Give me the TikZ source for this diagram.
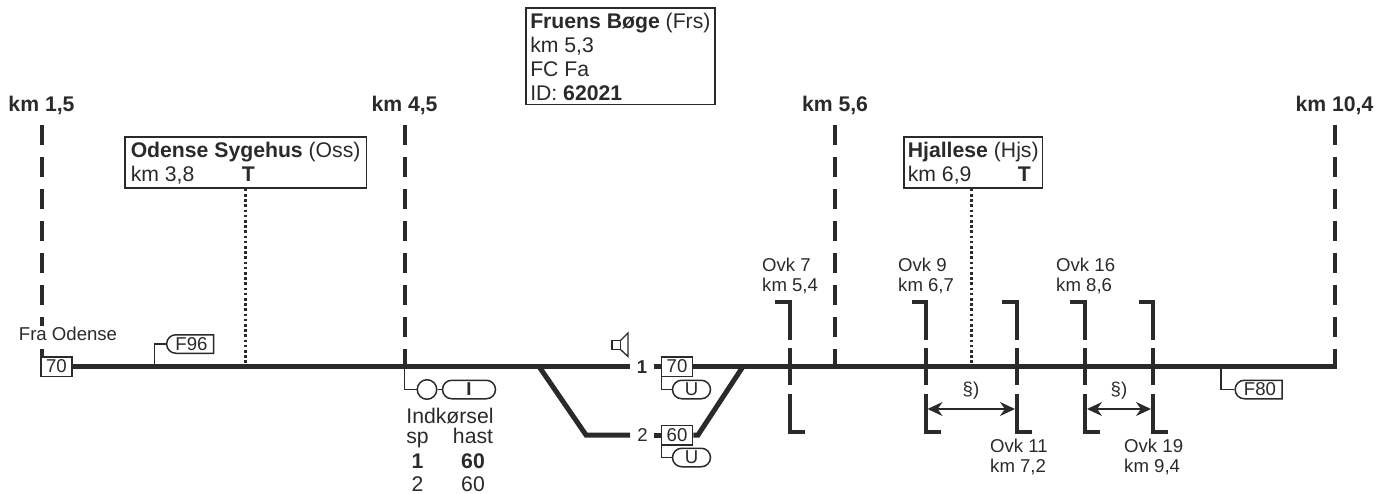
\documentclass[tikz,border=0pt]{standalone}
\usepackage{fontspec}
\setmainfont{Liberation Sans}
\usetikzlibrary{shapes.misc,arrows.meta}
\definecolor{ink}{HTML}{2B2A2B}
\newcommand{\fa}{\fontsize{18.6}{20.7}\selectfont}
\newcommand{\fb}{\fontsize{21.2}{24}\selectfont}
\newcommand{\topline}{\rule{0pt}{17.5pt}}
\tikzset{
  track/.style={draw=ink,line width=5pt,line join=miter},
  thin line/.style={draw=ink,line width=1.5pt},
  kmbar/.style={draw=ink,line width=4pt,dash pattern=on 20pt off 12pt},
  dots/.style={draw=ink,line width=2.4pt,dash pattern=on 2.6pt off 2.6pt},
  ovk/.style={draw=ink,line width=4pt,line join=miter},
  speed/.style={draw=ink,line width=1.5pt,fill=white,text=ink,font=\fa,minimum width=31pt,minimum height=19.5pt,inner sep=0pt},
  pod/.style={rounded rectangle,draw=ink,line width=1.5pt,fill=white,text=ink,font=\fa,minimum height=18.5pt,inner sep=0pt},
  flag/.style={pod,rounded rectangle east arc=none},
  station/.style={draw=ink,line width=1.5pt,fill=white,text=ink,font=\fb,anchor=north west,align=left,inner xsep=6pt,inner ysep=3.5pt},
  kmlabel/.style={text=ink,font=\fb\bfseries,inner sep=0pt},
  small/.style={text=ink,font=\fa,inner sep=0pt,align=left},
  big/.style={text=ink,font=\fb,inner sep=0pt,anchor=base},
  both/.style={{Stealth[length=15pt,width=14pt]}-{Stealth[length=15pt,width=14pt]},draw=ink,line width=1.5pt},
  x=1pt,y=-1pt
}
\begin{document}
\begin{tikzpicture}
\useasboundingbox (0,0) rectangle (1376,493);
% km bars
\coordinate (a1) at (41.5,125); \coordinate (a2) at (41.5,366);
\coordinate (b1) at (404.5,125); \coordinate (b2) at (404.5,366);
\coordinate (c1) at (835,125); \coordinate (c2) at (835,366);
\coordinate (d1) at (1334.5,125); \coordinate (d2) at (1334.5,368.5);
\draw[kmbar] (a1) -- (a2);
\draw[kmbar] (b1) -- (b2);
\draw[kmbar] (c1) -- (c2);
\draw[kmbar] (d1) -- (d2);
\node[kmlabel] (k1) at (41.5,105.5) {km 1,5};
\node[kmlabel] (k2) at (404.5,105.5) {km 4,5};
\node[kmlabel] (k3) at (835,105.5) {km 5,6};
\node[kmlabel] (k4) at (1334.5,105.5) {km 10,4};
% label over the bar
\node[small,fill=white,inner xsep=0pt,inner ysep=1pt] (fra) at (68,334) {Fra Odense};
% stations
\node[station] (oss) at (124,136) {\topline\textbf{Odense Sygehus} (Oss)\\\makebox[111pt][l]{km 3,8}\textbf{T}};
\node[station,inner xsep=4.5pt] (frs) at (525,7) {\topline\textbf{Fruens Bøge} (Frs)\\km 5,3\\FC Fa\\ID: \textbf{62021}};
\node[station,inner xsep=3.8pt] (hjs) at (903.3,136) {\topline\textbf{Hjallese} (Hjs)\\\makebox[110pt][l]{km 6,9}\textbf{T}};
\coordinate (ossr) at (245.5,364);
\coordinate (hjsr) at (971.5,364);
\draw[dots] (ossr |- oss.south) -- (ossr);
\draw[dots] (hjsr |- hjs.south) -- (hjsr);
% speed boxes
\node[speed] (s70a) at (56.5,366.5) {70};
\node[speed] (s70b) at (677,366.5) {70};
\node[speed] (s60) at (677,435) {60};
% tracks
\coordinate (sw1) at (539,366.5); \coordinate (sw2) at (743,366.5);
\coordinate (bend1) at (586,435); \coordinate (bend2) at (698,435);
\coordinate (e1) at (630,366.5); \coordinate (e2) at (630,435);
\coordinate (rend) at (1336.5,366.5);
\coordinate (st1) at (654,366.5); \coordinate (st2) at (654,435);
\node[text=ink,font=\fa\bfseries,inner sep=0pt] (n1) at (642,367) {1};
\node[text=ink,font=\fa,inner sep=0pt] (n2) at (642.5,435) {2};
\draw[track] (s70a.east) -- (e1);
\draw[track] (s70b.east) -- (rend);
\draw[track] (st1) -- (s70b.west);
\draw[track] (st2) -- (s60.west);
\draw[track] (sw1) -- (bend1) -- (e2);
\draw[track] (s60.east) -- (bend2) -- (sw2);
% pods under track
\node[pod,minimum width=38pt] (u1) at (691.5,389.5) {U};
\node[pod,minimum width=38pt] (u2) at (691.5,457.5) {U};
\draw[thin line] (661.7,376.5) |- (u1.west);
\draw[thin line] (661.7,444.5) |- (u2.west);
\node[circle,draw=ink,line width=1.5pt,fill=white,minimum size=19.5pt,inner sep=0pt] (sig) at (427,389.5) {};
\node[pod,minimum width=53pt,font=\fa\bfseries] (ind) at (469,389.5) {I};
\draw[thin line] (b2) |- (sig.west);
\draw[thin line] (sig.east) -- (ind.west);
\node[flag,minimum width=47pt] (f96) at (191.5,344) {F96};
\coordinate (f96r) at (154.7,366);
\draw[thin line] (f96r) |- (f96.west);
\node[flag,minimum width=47pt] (f80) at (1260,389.5) {F80};
\coordinate (f80r) at (1221,366);
\draw[thin line] (f80r) |- (f80.west);
% speaker
\draw[ink,line width=1.3pt,line join=miter] (612,340.5) rectangle (620.5,349.5);
\draw[ink,line width=1.3pt,line join=miter] (620.5,340.5) -- (628,333) -- (628,356.5) -- (620.5,349.5);
% entry table
\node[big] (t0) at (450,423.5) {Indkørsel};
\node[big] (t1) at (417.5,443.5) {sp};
\node[big] (t2) at (473,443.5) {hast};
\node[big,font=\fb\bfseries] (t3) at (417.5,468) {1};
\node[big,font=\fb\bfseries] (t4) at (473,468) {60};
\node[big] (t5) at (417.5,491.5) {2};
\node[big] (t6) at (473,491.5) {60};
% level crossings
\foreach \x/\l/\r [count=\i] in {790/775/805,925.5/911.5/941,1017/1002/1032,1085/1070/1100,1153/1139/1168}{
  \draw[ovk] (\l,302) -- (\x,302) -- (\x,340);
  \draw[ovk] (\x,348) -- (\x,385);
  \draw[ovk] (\x,394) -- (\x,432) -- (\r,432);
}
\coordinate (ar1) at (927.5,409); \coordinate (ar2) at (1015,409);
\coordinate (ar3) at (1087,409); \coordinate (ar4) at (1151,409);
\draw[both] (ar1) -- (ar2);
\draw[both] (ar3) -- (ar4);
\node[small] (p1) at (971,391) {§)};
\node[small] (p2) at (1119,391) {§)};
\node[small,anchor=west] (o7) at (762,276) {Ovk 7\\km 5,4};
\node[small,anchor=west] (o9) at (898,276) {Ovk 9\\km 6,7};
\node[small,anchor=west] (o16) at (1056,276) {Ovk 16\\km 8,6};
\node[small,anchor=west] (o11) at (990,457) {Ovk 11\\km 7,2};
\node[small,anchor=west] (o19) at (1124,457) {Ovk 19\\km 9,4};
\end{tikzpicture}
\end{document}
